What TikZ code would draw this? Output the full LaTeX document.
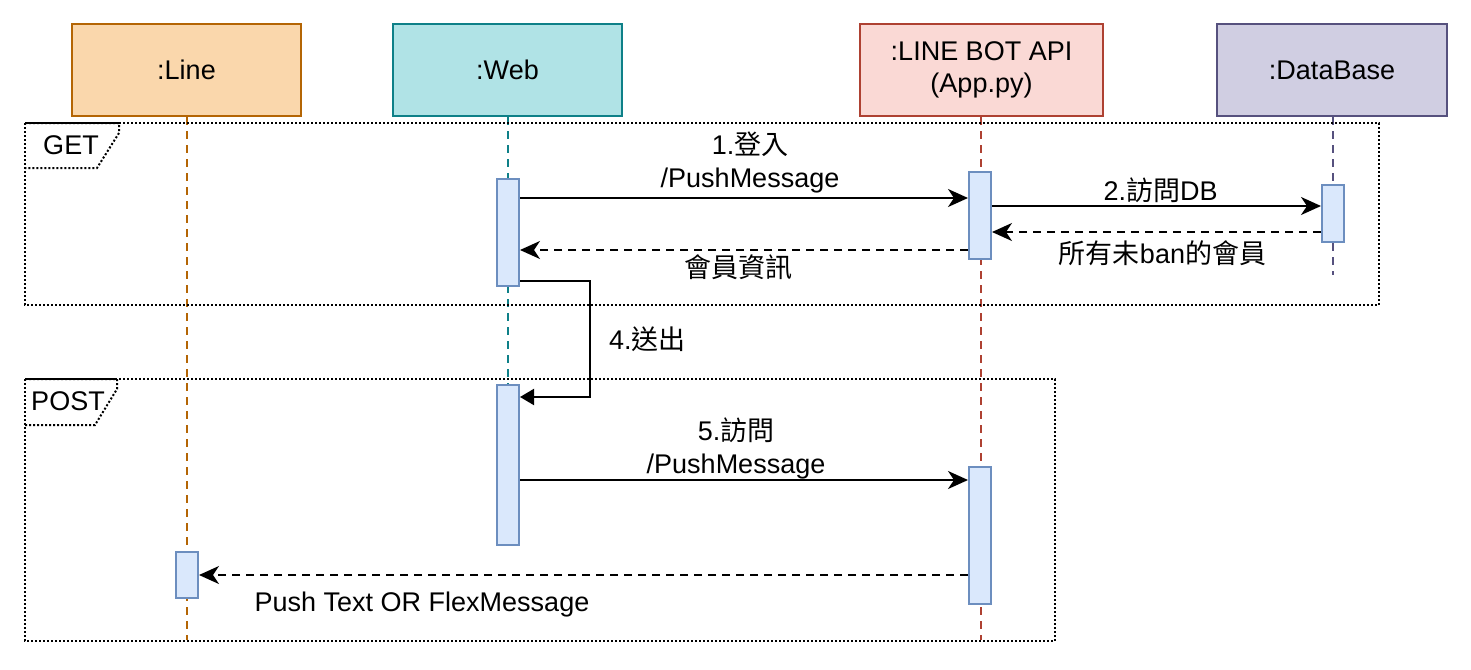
\documentclass[tikz,border=0pt]{standalone}
\usepackage{fontspec}
\setmainfont{Liberation Sans}
\newfontfamily\cjk{Noto Sans CJK TC}
\usetikzlibrary{arrows.meta,positioning}

\definecolor{lineFill}{HTML}{FAD7AC}
\definecolor{lineDraw}{HTML}{B46504}
\definecolor{webFill}{HTML}{B0E3E6}
\definecolor{webDraw}{HTML}{0E8088}
\definecolor{botFill}{HTML}{FAD9D5}
\definecolor{botDraw}{HTML}{AE4132}
\definecolor{dbFill}{HTML}{D0CEE2}
\definecolor{dbDraw}{HTML}{56517E}
\definecolor{actFill}{HTML}{DAE8FC}
\definecolor{actDraw}{HTML}{6C8EBF}

\tikzset{
  header/.style={draw, line width=1pt, minimum height=46pt, inner sep=0pt, align=center,
    font=\fontsize{13.5}{16}\selectfont},
  actbox/.style={draw=actDraw, fill=actFill, line width=1pt, minimum width=11pt,
    inner sep=0pt, anchor=north},
  lifeline/.style={line width=1pt, dash pattern=on 4pt off 3pt},
  umlframe/.style={line width=1pt, dash pattern=on 1pt off 1pt},
  msg/.style={line width=1pt, -{Stealth[length=10pt,width=9pt,inset=3pt]}},
  reply/.style={msg, dash pattern=on 4pt off 3pt},
  lbl/.style={font=\fontsize{13.5}{16.5}\selectfont, align=center, inner sep=2pt}
}

\begin{document}
\begin{tikzpicture}[x=0.5pt,y=-0.5pt]
  \useasboundingbox (0,0) rectangle (1471,669);

  % headers
  \node[header, fill=lineFill, draw=lineDraw, minimum width=114.5pt] (line) at (186.5,70) {:Line};
  \node[header, fill=webFill, draw=webDraw, minimum width=114.5pt] (web) at (507.5,70) {:Web};
  \node[header, fill=botFill, draw=botDraw, minimum width=121.5pt] (bot) at (981.5,70) {:LINE BOT API\\(App.py)};
  \node[header, fill=dbFill, draw=dbDraw, minimum width=115pt] (db) at (1332,70) {:DataBase};

  % lifeline ends
  \coordinate (lineEnd) at (187,640);
  \coordinate (webEnd) at (508,548);
  \coordinate (botEnd) at (981,640);
  \coordinate (dbEnd) at (1333,275);

  \draw[lifeline, lineDraw] (line.south -| lineEnd) -- (lineEnd);
  \draw[lifeline, webDraw] (web.south -| webEnd) -- (webEnd);
  \draw[lifeline, botDraw] (bot.south -| botEnd) -- (botEnd);
  \draw[lifeline, dbDraw] (db.south -| dbEnd) -- (dbEnd);

  % frames
  \draw[umlframe] (25,123) rectangle (1379,305);
  \draw[umlframe] (25,123) -- (119,123) -- (119,133) -- (97,168) -- (25,168);
  \node[lbl] (getLbl) at (71,145) {GET};

  \draw[umlframe] (25,379) rectangle (1055,641);
  \draw[umlframe] (25,379) -- (117,379) -- (117,389) -- (95,425) -- (25,425);
  \node[lbl] (postLbl) at (68,401) {POST};

  % activations
  \node[actbox, minimum height=53.5pt] (web1) at (508,178) {};
  \node[actbox, minimum height=43.5pt] (bot1) at (980,171) {};
  \node[actbox, minimum height=28.5pt] (db1) at (1333,184) {};
  \node[actbox, minimum height=80pt] (web2) at (508,384) {};
  \node[actbox, minimum height=68.5pt] (bot2) at (980,466) {};
  \node[actbox, minimum height=23pt] (line1) at (187,551) {};

  % message levels
  \coordinate (m1) at (0,198);
  \coordinate (m2) at (0,206);
  \coordinate (m3) at (0,232);
  \coordinate (m4) at (0,250);
  \coordinate (loopA) at (590,281);
  \coordinate (loopB) at (0,397);
  \coordinate (m5) at (0,480);
  \coordinate (m6) at (0,575);

  \draw[msg] (web1.east |- m1) -- node[lbl, above=0pt, xshift=3pt] {1.{\cjk 登入}\\/PushMessage} (bot1.west |- m1);
  \draw[msg] (bot1.east |- m2) -- node[lbl, above=-1pt, xshift=2pt] {2.{\cjk 訪問}DB} (db1.west |- m2);
  \draw[reply] (db1.west |- m3) -- node[lbl, below=2pt, xshift=3pt] {\cjk 所有未{\rmfamily ban}的會員} (bot1.east |- m3);
  \draw[reply] (bot1.west |- m4) -- node[lbl, below=0pt, xshift=-3pt] {\cjk 會員資訊} (web1.east |- m4);

  \draw[line width=1pt, -{Triangle[length=7pt,width=8pt]}]
    (web1.east |- loopA) -- (loopA) -- node[lbl, right=7pt] {4.{\cjk 送出}} (loopA |- loopB)
    -- (web2.east |- loopB);

  \draw[msg] (web2.east |- m5) -- node[lbl, above=-2pt, xshift=-4pt] {5.{\cjk 訪問}\\/PushMessage} (bot2.west |- m5);
  \draw[reply] (bot2.west |- m6) -- node[lbl, below=6pt, pos=0.71] {Push Text OR FlexMessage} (line1.east |- m6);
\end{tikzpicture}
\end{document}
